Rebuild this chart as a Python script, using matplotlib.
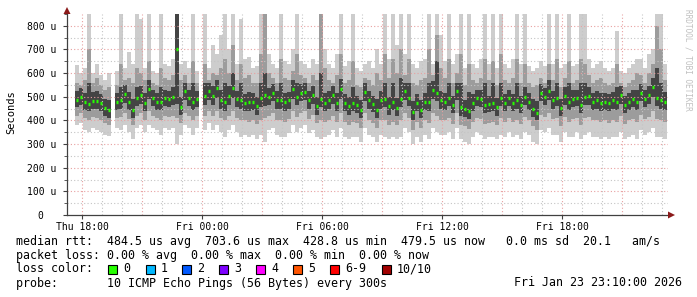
import numpy as np
import matplotlib
matplotlib.use("Agg")
import matplotlib.pyplot as plt
from matplotlib.patches import Polygon, Rectangle
from matplotlib.transforms import IdentityTransform
from matplotlib.ticker import MultipleLocator

nan = np.nan

# columns of 12 minutes, x in hours since Thu 00:00
t_start = 17.65
t_step = 0.2

# values in microseconds
median = [487, 500, 479, 470, 483, 483, 475, 453, 445, nan,
          479, 487, 513, 479, 445, 496, 508, 475, 534, 496,
          479, 479, 496, 492, 500, 704, 458, 525, 496, 479,
          492, nan, 504, 525, 504, 538, 487, 479, 504, 538,
          492, 487, 475, 479, 479, 462, 496, 508, 500, 517,
          487, 487, 479, 487, 534, 500, 517, 521, 487, 508,
          462, 492, 475, 487, 508, 475, 534, 475, 462, 475,
          466, 445, 521, 487, 470, 445, 487, 492, 462, 479,
          453, 492, 525, 496, 436, 475, 445, 479, 479, 530,
          517, 487, 479, 496, 466, 525, 458, 449, 440, 475,
          496, 492, 466, 470, 475, 458, 496, 475, 496, 475,
          487, 466, 500, 479, 449, 432, 517, 500, 525, 487,
          496, 453, 504, 479, 492, 496, 466, 500, 504, 479,
          487, 475, 479, 475, 487, 479, 508, 466, 479, 492,
          479, 517, 492, 508, 542, 496, 487, 479]

hi_out = [635, 600, 620, 900, 600, 640, 590, 570, 600, nan,
          610, 900, 620, 690, 640, 900, 830, 620, 900, 610,
          600, 900, 640, 630, 660, 900, 640, 650, 620, 900,
          610, nan, 900, 620, 720, 680, 760, 900, 700, 900,
          640, 830, 660, 670, 620, 630, 900, 900, 680, 640,
          620, 900, 650, 640, 700, 900, 650, 640, 620, 660,
          640, 900, 700, 640, 620, 680, 900, 630, 650, 900,
          620, 610, 640, 650, 620, 700, 640, 900, 660, 900,
          720, 900, 680, 900, 640, 620, 650, 660, 900, 640,
          900, 760, 650, 900, 640, 680, 900, 620, 900, 640,
          620, 660, 900, 640, 900, 620, 900, 640, 620, 660,
          900, 640, 900, 630, 610, 620, 650, 630, 900, 640,
          900, 620, 640, 900, 630, 640, 900, 900, 660, 620,
          640, 650, 620, 610, 620, 780, 610, 600, 620, 640,
          660, 660, 620, 680, 700, 900, 900, 640]

hi_mid = [560, 550, 570, 700, 560, 580, 550, 530, 540, nan,
          550, 640, 570, 580, 560, 620, 600, 570, 650, 560,
          550, 620, 580, 570, 590, 900, 570, 590, 560, 650,
          560, nan, 640, 570, 600, 590, 620, 660, 600, 720,
          570, 640, 580, 590, 560, 560, 680, 900, 600, 580,
          560, 660, 580, 570, 610, 680, 590, 580, 560, 590,
          570, 900, 620, 570, 560, 590, 680, 560, 570, 650,
          550, 540, 580, 570, 550, 600, 570, 680, 580, 660,
          600, 700, 590, 660, 560, 550, 570, 580, 700, 590,
          760, 620, 580, 660, 560, 600, 680, 550, 640, 570,
          560, 580, 660, 570, 650, 550, 680, 570, 560, 580,
          660, 560, 640, 560, 540, 550, 580, 560, 640, 570,
          660, 540, 580, 650, 560, 570, 660, 640, 590, 560,
          570, 580, 560, 550, 560, 640, 560, 540, 560, 570,
          600, 590, 560, 600, 640, 800, 700, 570]

hi_in = [525, 535, 515, 560, 520, 525, 510, 490, 485, nan,
         515, 540, 550, 520, 490, 540, 545, 515, 570, 530,
         515, 540, 530, 525, 540, 900, 500, 560, 530, 560,
         525, nan, 560, 560, 545, 570, 530, 560, 545, 600,
         525, 560, 510, 520, 515, 500, 560, 600, 535, 555,
         525, 560, 515, 520, 570, 560, 555, 560, 525, 545,
         500, 600, 515, 525, 545, 515, 575, 510, 500, 540,
         505, 485, 560, 525, 505, 490, 525, 560, 500, 560,
         495, 580, 560, 560, 480, 510, 485, 515, 560, 565,
         650, 525, 515, 560, 505, 560, 560, 485, 520, 510,
         530, 530, 560, 505, 560, 495, 560, 510, 530, 510,
         560, 505, 540, 515, 490, 480, 555, 535, 570, 525,
         560, 490, 540, 560, 530, 530, 560, 560, 540, 515,
         525, 515, 515, 510, 520, 540, 545, 505, 515, 530,
         530, 555, 530, 545, 580, 620, 560, 520]

lo_in = [455, 465, 445, 440, 450, 450, 440, 420, 410, nan,
         445, 450, 475, 445, 410, 460, 470, 440, 490, 460,
         445, 445, 460, 455, 465, 470, 425, 485, 460, 445,
         455, nan, 465, 485, 465, 495, 450, 440, 465, 495,
         455, 450, 440, 440, 445, 425, 455, 460, 465, 480,
         450, 450, 440, 450, 490, 465, 480, 485, 450, 470,
         425, 455, 440, 450, 470, 440, 490, 440, 425, 440,
         430, 410, 480, 450, 435, 410, 450, 455, 425, 445,
         420, 455, 485, 460, 400, 440, 410, 445, 440, 490,
         480, 450, 445, 460, 430, 485, 420, 415, 405, 440,
         460, 455, 430, 435, 440, 420, 460, 440, 460, 440,
         450, 430, 465, 445, 415, 400, 480, 465, 485, 450,
         460, 420, 465, 445, 455, 460, 430, 465, 465, 445,
         450, 440, 445, 440, 450, 445, 470, 430, 445, 455,
         445, 480, 455, 470, 500, 460, 450, 445]

lo_mid = [420, 430, 410, 400, 415, 410, 400, 390, 380, nan,
          410, 415, 430, 405, 380, 420, 430, 400, 440, 420,
          410, 400, 420, 415, 420, 410, 390, 430, 420, 400,
          420, nan, 420, 440, 420, 440, 410, 400, 420, 440,
          410, 400, 400, 395, 400, 385, 400, 410, 420, 430,
          400, 400, 395, 405, 440, 415, 430, 440, 405, 425,
          390, 400, 395, 400, 420, 395, 430, 395, 380, 395,
          390, 370, 430, 400, 390, 370, 400, 400, 380, 395,
          380, 400, 430, 410, 360, 395, 370, 400, 390, 430,
          420, 400, 400, 410, 385, 430, 380, 375, 365, 395,
          410, 405, 385, 390, 395, 380, 410, 395, 410, 395,
          400, 385, 415, 400, 375, 360, 425, 415, 430, 405,
          410, 375, 415, 395, 405, 410, 380, 410, 415, 400,
          400, 395, 400, 390, 400, 395, 420, 385, 400, 405,
          395, 425, 405, 415, 440, 405, 400, 395]

lo_out = [380, 390, 360, 350, 370, 360, 350, 340, 335, nan,
          370, 360, 380, 350, 320, 370, 380, 350, 380, 370,
          360, 340, 370, 360, 370, 300, 340, 380, 370, 340,
          370, nan, 360, 390, 360, 380, 350, 330, 360, 380,
          350, 330, 340, 330, 340, 320, 340, 310, 360, 370,
          340, 330, 330, 345, 380, 350, 370, 380, 345, 360,
          330, 320, 330, 340, 360, 330, 370, 330, 320, 330,
          330, 310, 370, 340, 330, 310, 340, 330, 320, 330,
          320, 330, 370, 350, 300, 330, 310, 340, 320, 370,
          350, 340, 340, 350, 320, 370, 320, 310, 300, 330,
          350, 340, 320, 330, 330, 320, 340, 330, 350, 330,
          340, 320, 350, 340, 310, 300, 360, 350, 370, 340,
          340, 310, 350, 330, 330, 350, 320, 340, 350, 330,
          330, 320, 330, 320, 330, 330, 350, 320, 330, 340,
          320, 360, 340, 350, 370, 330, 330, 320]

xtick_pos = [18, 24, 30, 36, 42]
xtick_labels = ["Thu 18:00", "Fri 00:00", "Fri 06:00", "Fri 12:00", "Fri 18:00"]
ytick_pos = [0, 100, 200, 300, 400, 500, 600, 700, 800]
ytick_labels = ["0  ", "100 u", "200 u", "300 u", "400 u", "500 u", "600 u", "700 u", "800 u"]

loss_labels = ["0", "1", "2", "3", "4", "5", "6-9", "10/10"]
loss_colors = ["#26ff00", "#00b8ff", "#0059ff", "#7e00ff", "#ff00ff", "#ff5500", "#ff0000", "#a10000"]

legend_lines = [
    "median rtt:  484.5 us avg  703.6 us max  428.8 us min  479.5 us now   0.0 ms sd  20.1   am/s",
    "packet loss: 0.00 % avg  0.00 % max  0.00 % min  0.00 % now",
    "loss color:",
    "probe:       10 ICMP Echo Pings (56 Bytes) every 300s",
]
stamp = "Fri Jan 23 23:10:00 2026"

W, H = 697, 297
mono = "DejaVu Sans Mono"
fig = plt.figure(figsize=(W / 100, H / 100), dpi=100)
fig.patch.set_facecolor("white")
ax = fig.add_axes([67 / W, (H - 215) / H, 601 / W, 201 / H])

t = t_start + t_step * np.arange(len(median))


def band(lo, hi, color):
    lo = np.array(lo, float)
    hi = np.array(hi, float)
    ok = ~np.isnan(lo)
    ax.bar(t[ok], hi[ok] - lo[ok], bottom=lo[ok], width=t_step, align="edge",
           color=color, linewidth=0, zorder=2)


band(lo_out, hi_out, "#cdcdcd")
band(lo_mid, hi_mid, "#9c9c9c")
band(lo_in, hi_in, "#444444")

med = np.array(median, float)
ok = ~np.isnan(med)
ax.hlines(med[ok], t[ok] + 0.03, t[ok] + t_step - 0.03, color="#26ff00", lw=2.4, zorder=4)

ax.set_xlim(17.25, 47.3)
ax.set_ylim(0, 850)

# grid (rrdtool style, dotted, on top of the smoke)
for h in range(18, 48):
    c = "#e8a0a0" if h % 3 == 0 else "#c4c4c4"
    ax.axvline(h, color=c, lw=0.8, ls=(0, (1, 2)), zorder=3)
for y in range(50, 850, 50):
    c = "#e8a0a0" if y % 100 == 0 else "#c4c4c4"
    ax.axhline(y, color=c, lw=0.8, ls=(0, (1, 2)), zorder=3)

for s in ["top", "right"]:
    ax.spines[s].set_visible(False)
for s in ["left", "bottom"]:
    ax.spines[s].set_color("#404040")
    ax.spines[s].set_linewidth(0.9)
    ax.spines[s].set_zorder(5)

ax.set_xticks(xtick_pos)
ax.set_xticklabels(xtick_labels, fontfamily=mono, fontsize=7)
ax.set_yticks(ytick_pos)
ax.set_yticklabels(ytick_labels, fontfamily=mono, fontsize=7)
ax.yaxis.set_minor_locator(MultipleLocator(50))
ax.tick_params(axis="y", which="major", length=3, direction="out", color="#404040", pad=5)
ax.tick_params(axis="y", which="minor", length=2, direction="out", color="#404040")
ax.tick_params(axis="x", length=3, direction="out", color="#404040", pad=2)

# axis arrows (pixel coords)
ident = IdentityTransform()
fig.add_artist(Polygon([(63.5, H - 14), (70.5, H - 14), (67, H - 7)], closed=True,
                       transform=ident, color="#8b1a1a", lw=0))
fig.add_artist(Polygon([(668, H - 211.5), (668, H - 218.5), (675, H - 215)], closed=True,
                       transform=ident, color="#8b1a1a", lw=0))

fig.text(11 / W, 1 - 112 / H, "Seconds", rotation=90, ha="center", va="center",
         fontfamily=mono, fontsize=7.5)
fig.text(688 / W, 1 - 60 / H, "RRDTOOL / TOBI OETIKER", rotation=270, ha="center", va="center",
         fontfamily=mono, fontsize=5.6, color="#c0c0c0")

row_y = [241, 255, 269, 283]
for txt, yy in zip(legend_lines, row_y):
    fig.text(16 / W, 1 - yy / H, txt, ha="left", va="center", fontfamily=mono, fontsize=8.4)
fig.text(682 / W, 1 - 283 / H, stamp, ha="right", va="center", fontfamily=mono, fontsize=8.4)

box_x = [108, 146, 182, 219, 256, 293, 330, 382]
for bx, col, lab in zip(box_x, loss_colors, loss_labels):
    fig.add_artist(Rectangle((bx, H - 273.5), 9, 9, transform=ident,
                             facecolor=col, edgecolor="black", lw=0.8))
    fig.text((bx + 15) / W, 1 - 269 / H, lab, ha="left", va="center", fontfamily=mono, fontsize=8.4)

fig.savefig("out.png", dpi=100)
